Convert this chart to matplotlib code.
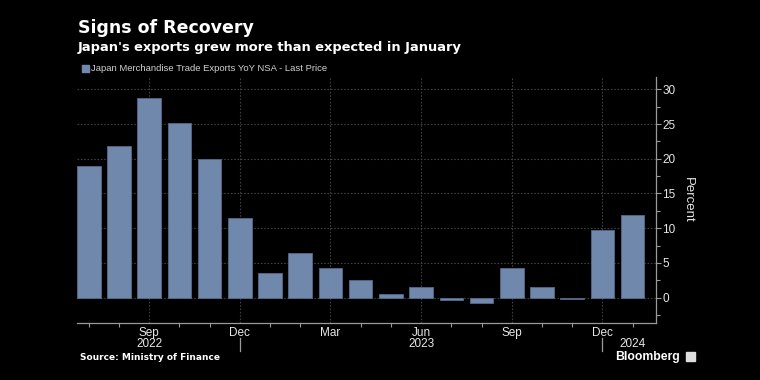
import numpy as np
import matplotlib
matplotlib.use("Agg")
import matplotlib.pyplot as plt
from matplotlib import transforms
from matplotlib.ticker import MultipleLocator, FixedLocator

# monthly YoY % change of Japan merchandise exports, Jul 2022 - Jan 2024
months = ['Jul', 'Aug', 'Sep', 'Oct', 'Nov', 'Dec',
          'Jan', 'Feb', 'Mar', 'Apr', 'May', 'Jun',
          'Jul', 'Aug', 'Sep', 'Oct', 'Nov', 'Dec', 'Jan']
years = [2022] * 6 + [2023] * 12 + [2024]
values = [19.0, 21.9, 28.8, 25.2, 19.9, 11.5,
          3.5, 6.5, 4.3, 2.6, 0.6, 1.5,
          -0.3, -0.8, 4.3, 1.6, -0.2, 9.7, 11.9]
major_months = ['Mar', 'Jun', 'Sep', 'Dec']
# month under which each year label sits
year_label_month = {2022: 'Sep', 2023: 'Jun', 2024: 'Jan'}

bg = 'black'
bar_color = '#7188ad'
txt = '#e6e6e6'
grid_c = '#3e3e3e'
axis_c = '#9a9a9a'
tick_font = 'Liberation Sans'

fig = plt.figure(figsize=(7.6, 3.8), dpi=100, facecolor=bg)
ax = fig.add_axes([0.1013, 0.149, 0.7617, 0.648], facecolor=bg)

x = np.arange(len(values))
ax.bar(x, values, width=0.78, color=bar_color, edgecolor='#56698a',
       linewidth=0.6, zorder=3)

ax.set_xlim(-0.39, len(values) - 1 + 0.77)
ax.set_ylim(-3.7, 31.75)

# y axis on the right
ax.yaxis.tick_right()
ax.yaxis.set_label_position('right')
ax.yaxis.set_major_locator(MultipleLocator(5))
ax.yaxis.set_minor_locator(MultipleLocator(2.5))
ax.set_ylabel('Percent', rotation=270, color=txt, fontsize=9.5,
              labelpad=13, family=tick_font)

# x ticks: minor at every month, labels on quarter months
major_pos = [i for i, m in enumerate(months) if m in major_months]
ax.xaxis.set_major_locator(FixedLocator(major_pos))
ax.xaxis.set_minor_locator(FixedLocator(list(x)))
ax.set_xticklabels([months[i] for i in major_pos])

for spine in ['top', 'left']:
    ax.spines[spine].set_visible(False)
for spine in ['bottom', 'right']:
    ax.spines[spine].set_color(axis_c)
    ax.spines[spine].set_linewidth(0.9)

ax.tick_params(axis='both', which='both', colors=axis_c, labelcolor=txt,
               labelsize=8.5, width=0.8)
ax.tick_params(axis='y', which='major', length=3.5, pad=1)
ax.tick_params(axis='y', which='minor', length=3)
ax.tick_params(axis='x', which='major', length=0, pad=2.5)
ax.tick_params(axis='x', which='minor', length=3)
for lab in ax.get_xticklabels() + ax.get_yticklabels():
    lab.set_family(tick_font)

ax.grid(axis='y', which='major', color=grid_c, linestyle=(0, (1.5, 1.5)),
        linewidth=0.8, zorder=0)
ax.grid(axis='x', which='major', color=grid_c, linestyle=(0, (1.5, 1.5)),
        linewidth=0.8, zorder=0)

# year labels under the month labels and separators at December
trans = transforms.blended_transform_factory(ax.transData, fig.transFigure)
for yr, m in year_label_month.items():
    pos = [i for i in x if years[i] == yr and months[i] == m][0]
    fig.text(pos, 1 - 344 / 380, str(yr), transform=trans, ha='center',
             va='center', color=txt, fontsize=8.5, family=tick_font)
for i, m in enumerate(months):
    if m == 'Dec':
        ax.plot([i, i], [1 - 338 / 380, 1 - 351 / 380], transform=trans,
                color=axis_c, linewidth=0.9, clip_on=False)

# titles
fig.text(0.1026, 1 - 28 / 380, 'Signs of Recovery', color='white',
         fontsize=12.5, fontweight='bold', va='center', ha='left')
fig.text(0.1026, 1 - 47 / 380,
         "Japan's exports grew more than expected in January",
         color='white', fontsize=9.4, fontweight='bold', va='center',
         ha='left')

# legend
fig.patches.append(plt.Rectangle((82 / 760, 1 - 72 / 380), 7 / 760, 7 / 380,
                                 transform=fig.transFigure, color=bar_color))
fig.text(91 / 760, 1 - 68.5 / 380,
         'Japan Merchandise Trade Exports YoY NSA - Last Price',
         color='#d0d0d0', fontsize=6.8, va='center', ha='left',
         family=tick_font)

# footer
fig.text(80 / 760, 1 - 358 / 380, 'Source: Ministry of Finance',
         color='white', fontsize=6.5, fontweight='bold', va='center',
         ha='left')
fig.text(680 / 760, 1 - 357 / 380, 'Bloomberg', color='white',
         fontsize=8.8, fontweight='bold', va='center', ha='right',
         family=tick_font)
fig.patches.append(plt.Rectangle((686 / 760, 1 - 361 / 380), 9 / 760,
                                 9 / 380, transform=fig.transFigure,
                                 color='#dddddd'))

fig.savefig('out.png', dpi=100, facecolor=bg)
